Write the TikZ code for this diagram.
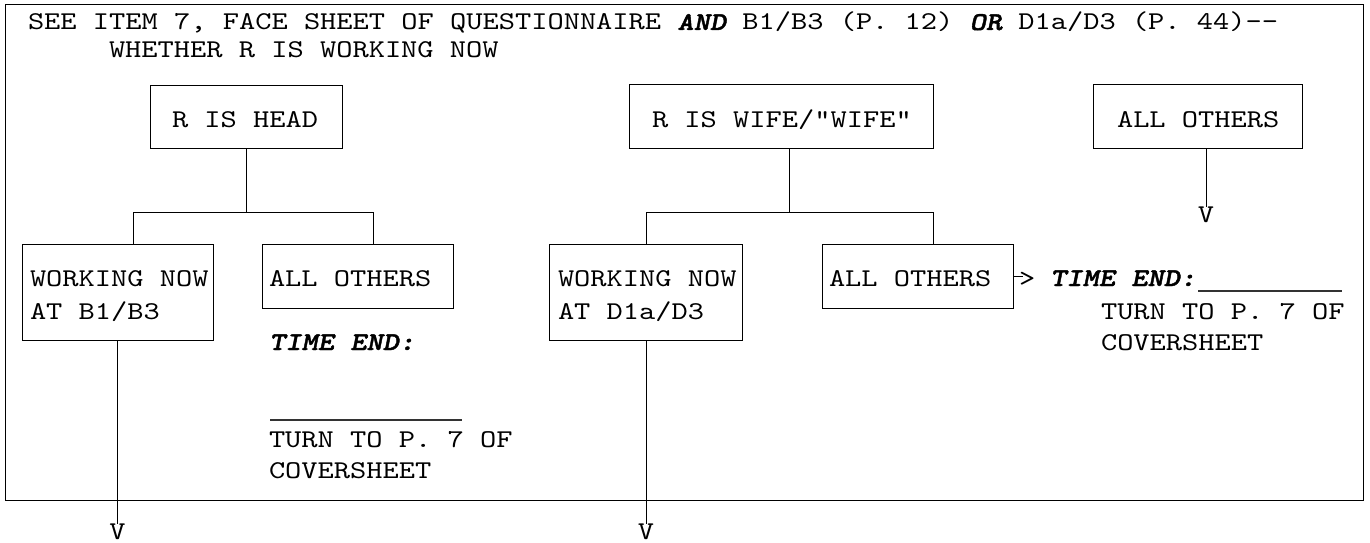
\documentclass[tikz,border=0pt]{standalone}
\usepackage{fontspec}
\setmonofont{lmmono10-regular.otf}[FakeStretch=1.208]
\newfontfamily\bifamily{lmmonolt10-boldoblique.otf}[FakeStretch=1.208, FakeBold=1.6]
\newcommand\myfs{\ttfamily\fontsize{25.6}{30}\selectfont}
\newcommand\bi[1]{{\bifamily #1}}
\begin{document}
\begin{tikzpicture}[x=1pt,y=-1pt,
  every node/.style={inner sep=0pt, outer sep=0pt},
  txt/.style={anchor=base west, font=\myfs},
  boxx/.style={draw, line width=0.9pt, anchor=north west},
  ln/.style={line width=0.9pt},
  uline/.style={line width=1.3pt, black!80},
  vtip/.style={anchor=base, font=\myfs, text height=15.5pt, text depth=0pt}]
\useasboundingbox (0,0) rectangle (1370,543);
% frame
\node[boxx, minimum width=1358, minimum height=496] (frame) at (5,4) {};
% title
\node[txt] (t1) at (28,30) {SEE ITEM 7, FACE SHEET OF QUESTIONNAIRE \bi{AND} B1/B3 (P. 12) \bi{OR} D1a/D3 (P. 44)--};
\node[txt] (t2) at (109,58) {WHETHER R IS WORKING NOW};
% top boxes
\node[boxx, minimum width=192, minimum height=63] (hd) at (150,85) {};
\node[txt] (hdt) at (172,127) {R IS HEAD};
\node[boxx, minimum width=304, minimum height=64] (wf) at (629,84) {};
\node[txt] (wft) at (652,127) {R IS WIFE/"WIFE"};
\node[boxx, minimum width=209, minimum height=64] (ao3) at (1093,84) {};
\node[txt] (ao3t) at (1117,127) {ALL OTHERS};
% lower boxes
\node[boxx, minimum width=191, minimum height=96] (wn1) at (22,244) {};
\node[txt] (wn1a) at (30,286) {WORKING NOW};
\node[txt] (wn1b) at (30,319) {AT B1/B3};
\node[boxx, minimum width=191, minimum height=64] (ao1) at (262,244) {};
\node[txt] (ao1t) at (269,286) {ALL OTHERS};
\node[boxx, minimum width=193, minimum height=96] (wn2) at (549,244) {};
\node[txt] (wn2a) at (558,286) {WORKING NOW};
\node[txt] (wn2b) at (558,319) {AT D1a/D3};
\node[boxx, minimum width=191, minimum height=64] (ao2) at (822,244) {};
\node[txt] (ao2t) at (829,286) {ALL OTHERS};
% time end texts
\node[txt] (te1) at (269,350) {\bi{TIME END:}};
\draw[uline] (270,420) -- (462,420);
\node[txt] (tu1) at (269,447) {TURN TO P. 7 OF};
\node[txt] (cs1) at (269,478) {COVERSHEET};
\node[txt] (gt) at (1019,286) {>};
\node[txt] (te2) at (1050,286) {\bi{TIME END:}};
\draw[uline] (1198,291) -- (1342,291);
\node[txt] (tu2) at (1101,319) {TURN TO P. 7 OF};
\node[txt] (cs2) at (1101,350) {COVERSHEET};
% connectors
\draw[ln] (hd.south) -- ++(0,64) coordinate (hj);
\draw[ln] ([xshift=15.5]wn1.north) -- ++(0,-32) -| ([xshift=15.5]ao1.north);
\draw[ln] ([xshift=8]wf.south) -- ++(0,64) coordinate (wj);
\draw[ln] ([xshift=0.5]wn2.north) -- ++(0,-32) -| ([xshift=15.5]ao2.north);
\node[vtip] (v1) at (117.5,539) {V};
\node[vtip] (v2) at (646,539) {V};
\node[vtip] (v3) at (1206,222) {V};
\draw[ln] (wn1.south) -- (v1.north);
\draw[ln] ([xshift=0.5]wn2.south) -- (v2.north);
\draw[ln] ([xshift=8.5]ao3.south) -- (v3.north);
\draw[ln] (ao2.east) -- ([xshift=4]ao2.east -| gt.west);
\end{tikzpicture}
\end{document}
